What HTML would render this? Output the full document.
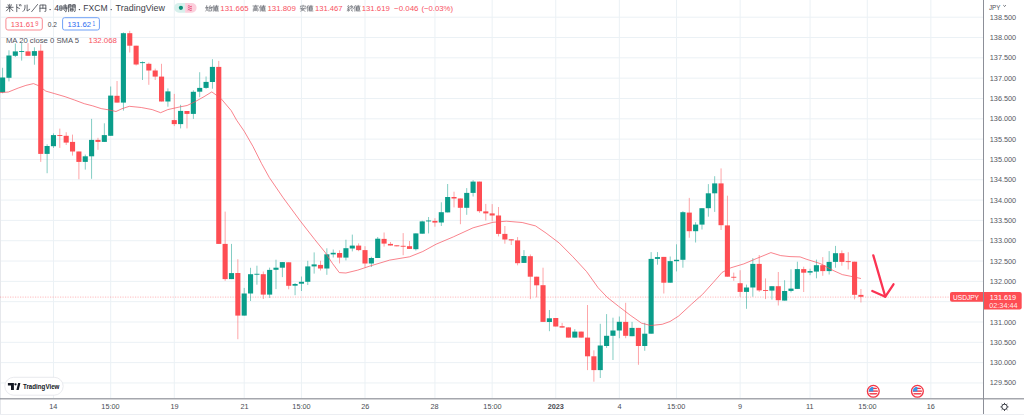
<!DOCTYPE html><html><head><meta charset="utf-8"><style>
html,body{margin:0;padding:0;background:#fff;width:1024px;height:415px;overflow:hidden}
svg{display:block}
text{font-family:"Liberation Sans",sans-serif}
</style></head><body>
<svg width="1024" height="415" viewBox="0 0 1024 415">
<rect x="0" y="0" width="1024" height="415" fill="#ffffff"/>
<g stroke="#ebf1f5" stroke-width="1"><line x1="53.46" y1="0" x2="53.46" y2="398" /><line x1="110.69" y1="0" x2="110.69" y2="398" /><line x1="174.27" y1="0" x2="174.27" y2="398" /><line x1="244.20" y1="0" x2="244.20" y2="398" /><line x1="301.43" y1="0" x2="301.43" y2="398" /><line x1="365.01" y1="0" x2="365.01" y2="398" /><line x1="434.94" y1="0" x2="434.94" y2="398" /><line x1="492.17" y1="0" x2="492.17" y2="398" /><line x1="555.75" y1="0" x2="555.75" y2="398" /><line x1="619.33" y1="0" x2="619.33" y2="398" /><line x1="676.55" y1="0" x2="676.55" y2="398" /><line x1="740.13" y1="0" x2="740.13" y2="398" /><line x1="810.07" y1="0" x2="810.07" y2="398" /><line x1="867.29" y1="0" x2="867.29" y2="398" /><line x1="930.87" y1="0" x2="930.87" y2="398" /><line x1="0" y1="17.20" x2="983" y2="17.20" /><line x1="0" y1="37.52" x2="983" y2="37.52" /><line x1="0" y1="57.84" x2="983" y2="57.84" /><line x1="0" y1="78.16" x2="983" y2="78.16" /><line x1="0" y1="98.48" x2="983" y2="98.48" /><line x1="0" y1="118.80" x2="983" y2="118.80" /><line x1="0" y1="139.12" x2="983" y2="139.12" /><line x1="0" y1="159.44" x2="983" y2="159.44" /><line x1="0" y1="179.76" x2="983" y2="179.76" /><line x1="0" y1="200.08" x2="983" y2="200.08" /><line x1="0" y1="220.40" x2="983" y2="220.40" /><line x1="0" y1="240.72" x2="983" y2="240.72" /><line x1="0" y1="261.04" x2="983" y2="261.04" /><line x1="0" y1="281.36" x2="983" y2="281.36" /><line x1="0" y1="301.68" x2="983" y2="301.68" /><line x1="0" y1="322.00" x2="983" y2="322.00" /><line x1="0" y1="342.32" x2="983" y2="342.32" /><line x1="0" y1="362.64" x2="983" y2="362.64" /><line x1="0" y1="382.96" x2="983" y2="382.96" /></g>
<rect x="0" y="0" width="1" height="415" fill="#e6e8ec"/>
<line x1="0" y1="297.1" x2="950" y2="297.1" stroke="#fe4d53" stroke-width="1" stroke-dasharray="1.2 1.3" opacity="0.38"/>
<g fill="#0a9d8a" opacity="0.55"><rect x="2.15" y="67.80" width="0.9" height="25.50"/><rect x="8.51" y="50.30" width="0.9" height="31.10"/><rect x="14.87" y="43.50" width="0.9" height="13.50"/><rect x="21.22" y="42.80" width="0.9" height="17.80"/><rect x="33.94" y="47.30" width="0.9" height="17.40"/><rect x="46.66" y="144.30" width="0.9" height="28.90"/><rect x="53.01" y="133.40" width="0.9" height="14.50"/><rect x="84.80" y="154.60" width="0.9" height="15.00"/><rect x="91.16" y="118.90" width="0.9" height="59.90"/><rect x="103.88" y="123.30" width="0.9" height="18.60"/><rect x="110.24" y="86.50" width="0.9" height="49.30"/><rect x="122.95" y="32.40" width="0.9" height="78.20"/><rect x="142.03" y="61.40" width="0.9" height="18.60"/><rect x="167.46" y="88.40" width="0.9" height="18.30"/><rect x="180.17" y="104.80" width="0.9" height="23.60"/><rect x="192.89" y="90.30" width="0.9" height="28.60"/><rect x="199.25" y="72.20" width="0.9" height="25.00"/><rect x="205.61" y="76.50" width="0.9" height="12.30"/><rect x="211.96" y="59.20" width="0.9" height="29.50"/><rect x="231.04" y="243.90" width="0.9" height="35.20"/><rect x="243.75" y="287.90" width="0.9" height="27.70"/><rect x="250.11" y="267.80" width="0.9" height="33.20"/><rect x="256.47" y="265.70" width="0.9" height="19.00"/><rect x="269.19" y="267.60" width="0.9" height="30.40"/><rect x="275.54" y="259.70" width="0.9" height="29.40"/><rect x="281.90" y="262.10" width="0.9" height="15.00"/><rect x="294.62" y="283.00" width="0.9" height="12.20"/><rect x="300.98" y="276.50" width="0.9" height="14.50"/><rect x="307.33" y="260.80" width="0.9" height="24.20"/><rect x="313.69" y="252.40" width="0.9" height="21.20"/><rect x="326.41" y="248.30" width="0.9" height="26.50"/><rect x="332.77" y="249.50" width="0.9" height="8.00"/><rect x="345.48" y="239.70" width="0.9" height="20.70"/><rect x="351.84" y="234.60" width="0.9" height="16.80"/><rect x="370.91" y="256.80" width="0.9" height="10.20"/><rect x="377.27" y="237.00" width="0.9" height="21.00"/><rect x="415.42" y="233.40" width="0.9" height="17.10"/><rect x="421.78" y="220.70" width="0.9" height="13.00"/><rect x="428.14" y="217.00" width="0.9" height="16.40"/><rect x="440.85" y="202.30" width="0.9" height="23.70"/><rect x="447.21" y="184.00" width="0.9" height="28.40"/><rect x="466.28" y="188.10" width="0.9" height="26.70"/><rect x="472.64" y="180.10" width="0.9" height="16.40"/><rect x="523.51" y="250.10" width="0.9" height="12.80"/><rect x="548.94" y="310.00" width="0.9" height="21.20"/><rect x="574.37" y="329.10" width="0.9" height="8.50"/><rect x="599.80" y="323.80" width="0.9" height="54.20"/><rect x="606.16" y="314.10" width="0.9" height="33.80"/><rect x="612.52" y="317.70" width="0.9" height="42.30"/><rect x="618.88" y="316.50" width="0.9" height="21.70"/><rect x="631.59" y="321.90" width="0.9" height="14.30"/><rect x="644.31" y="322.80" width="0.9" height="28.00"/><rect x="650.67" y="252.10" width="0.9" height="81.60"/><rect x="657.02" y="252.10" width="0.9" height="12.60"/><rect x="669.74" y="256.50" width="0.9" height="26.20"/><rect x="676.10" y="244.30" width="0.9" height="27.10"/><rect x="682.46" y="211.10" width="0.9" height="56.60"/><rect x="695.17" y="222.20" width="0.9" height="20.30"/><rect x="701.53" y="208.20" width="0.9" height="21.30"/><rect x="707.89" y="184.10" width="0.9" height="32.60"/><rect x="714.25" y="176.20" width="0.9" height="35.70"/><rect x="746.04" y="284.60" width="0.9" height="24.20"/><rect x="752.39" y="258.10" width="0.9" height="38.60"/><rect x="771.47" y="286.20" width="0.9" height="13.40"/><rect x="784.18" y="280.20" width="0.9" height="20.40"/><rect x="790.54" y="269.30" width="0.9" height="23.10"/><rect x="796.90" y="261.70" width="0.9" height="27.20"/><rect x="809.62" y="268.70" width="0.9" height="6.50"/><rect x="815.97" y="259.60" width="0.9" height="18.70"/><rect x="828.69" y="251.10" width="0.9" height="23.40"/><rect x="835.05" y="245.90" width="0.9" height="21.80"/></g>
<g fill="#fe4d53" opacity="0.55"><rect x="27.58" y="43.10" width="0.9" height="12.70"/><rect x="40.30" y="44.20" width="0.9" height="117.70"/><rect x="59.37" y="128.60" width="0.9" height="19.30"/><rect x="65.73" y="132.20" width="0.9" height="12.80"/><rect x="72.09" y="134.60" width="0.9" height="21.00"/><rect x="78.45" y="151.50" width="0.9" height="27.70"/><rect x="97.52" y="137.80" width="0.9" height="12.00"/><rect x="116.59" y="81.00" width="0.9" height="21.60"/><rect x="129.31" y="30.80" width="0.9" height="21.70"/><rect x="135.67" y="45.70" width="0.9" height="19.80"/><rect x="148.38" y="62.60" width="0.9" height="22.20"/><rect x="154.74" y="68.60" width="0.9" height="11.40"/><rect x="161.10" y="63.80" width="0.9" height="37.70"/><rect x="173.82" y="93.90" width="0.9" height="32.20"/><rect x="186.53" y="111.00" width="0.9" height="17.40"/><rect x="218.32" y="60.90" width="0.9" height="183.00"/><rect x="224.68" y="211.60" width="0.9" height="69.20"/><rect x="237.40" y="259.20" width="0.9" height="80.00"/><rect x="262.83" y="271.50" width="0.9" height="27.50"/><rect x="288.26" y="262.30" width="0.9" height="27.00"/><rect x="320.05" y="260.80" width="0.9" height="9.70"/><rect x="339.12" y="250.30" width="0.9" height="13.10"/><rect x="358.20" y="243.40" width="0.9" height="7.80"/><rect x="364.56" y="246.20" width="0.9" height="21.30"/><rect x="383.63" y="232.50" width="0.9" height="14.10"/><rect x="389.99" y="242.00" width="0.9" height="3.50"/><rect x="396.35" y="245.30" width="0.9" height="1.00"/><rect x="402.70" y="233.10" width="0.9" height="22.10"/><rect x="409.06" y="241.00" width="0.9" height="7.90"/><rect x="434.49" y="218.20" width="0.9" height="8.50"/><rect x="453.57" y="191.70" width="0.9" height="15.70"/><rect x="459.93" y="198.50" width="0.9" height="25.70"/><rect x="479.00" y="181.60" width="0.9" height="31.20"/><rect x="485.36" y="203.90" width="0.9" height="16.60"/><rect x="491.72" y="204.10" width="0.9" height="17.10"/><rect x="498.07" y="207.00" width="0.9" height="29.40"/><rect x="504.43" y="226.00" width="0.9" height="17.70"/><rect x="510.79" y="239.30" width="0.9" height="5.70"/><rect x="517.15" y="237.10" width="0.9" height="28.20"/><rect x="529.86" y="254.50" width="0.9" height="44.60"/><rect x="536.22" y="276.70" width="0.9" height="20.70"/><rect x="542.58" y="267.70" width="0.9" height="54.20"/><rect x="555.30" y="318.00" width="0.9" height="8.50"/><rect x="561.65" y="322.90" width="0.9" height="4.70"/><rect x="568.01" y="327.40" width="0.9" height="10.20"/><rect x="580.73" y="331.60" width="0.9" height="6.00"/><rect x="587.09" y="305.00" width="0.9" height="65.10"/><rect x="593.44" y="350.30" width="0.9" height="31.40"/><rect x="625.23" y="302.80" width="0.9" height="35.40"/><rect x="637.95" y="327.90" width="0.9" height="36.90"/><rect x="663.38" y="256.90" width="0.9" height="36.60"/><rect x="688.81" y="197.90" width="0.9" height="39.80"/><rect x="720.60" y="168.40" width="0.9" height="61.60"/><rect x="726.96" y="195.70" width="0.9" height="81.00"/><rect x="733.32" y="272.60" width="0.9" height="8.20"/><rect x="739.68" y="270.20" width="0.9" height="26.50"/><rect x="758.75" y="255.00" width="0.9" height="36.90"/><rect x="765.11" y="278.40" width="0.9" height="20.70"/><rect x="777.83" y="272.00" width="0.9" height="33.50"/><rect x="803.26" y="266.70" width="0.9" height="25.30"/><rect x="822.33" y="257.10" width="0.9" height="18.70"/><rect x="841.41" y="250.40" width="0.9" height="15.30"/><rect x="847.76" y="252.20" width="0.9" height="17.30"/><rect x="854.12" y="261.70" width="0.9" height="37.70"/><rect x="860.48" y="289.00" width="0.9" height="13.50"/></g>
<g fill="#0a9d8a"><rect x="0.05" y="77.50" width="5.1" height="14.80"/><rect x="6.41" y="55.50" width="5.1" height="22.30"/><rect x="12.77" y="51.40" width="5.1" height="4.40"/><rect x="19.12" y="51.00" width="5.1" height="0.90"/><rect x="31.84" y="51.10" width="5.1" height="4.70"/><rect x="44.56" y="146.00" width="5.1" height="7.90"/><rect x="50.91" y="135.10" width="5.1" height="11.10"/><rect x="82.70" y="156.30" width="5.1" height="5.60"/><rect x="89.06" y="139.90" width="5.1" height="16.40"/><rect x="101.78" y="135.10" width="5.1" height="6.80"/><rect x="108.14" y="95.60" width="5.1" height="40.20"/><rect x="120.85" y="33.20" width="5.1" height="69.40"/><rect x="139.93" y="62.20" width="5.1" height="0.90"/><rect x="165.36" y="91.40" width="5.1" height="10.10"/><rect x="178.07" y="110.90" width="5.1" height="13.20"/><rect x="190.79" y="91.80" width="5.1" height="22.10"/><rect x="197.15" y="87.90" width="5.1" height="3.80"/><rect x="203.51" y="81.90" width="5.1" height="6.00"/><rect x="209.86" y="66.90" width="5.1" height="15.10"/><rect x="228.94" y="273.10" width="5.1" height="6.00"/><rect x="241.65" y="293.50" width="5.1" height="22.10"/><rect x="248.01" y="274.20" width="5.1" height="19.30"/><rect x="254.37" y="273.80" width="5.1" height="0.90"/><rect x="267.09" y="269.90" width="5.1" height="24.70"/><rect x="273.44" y="267.70" width="5.1" height="2.10"/><rect x="279.80" y="262.10" width="5.1" height="5.60"/><rect x="292.52" y="284.00" width="5.1" height="1.70"/><rect x="298.88" y="281.80" width="5.1" height="1.90"/><rect x="305.23" y="266.40" width="5.1" height="15.40"/><rect x="311.59" y="264.40" width="5.1" height="2.00"/><rect x="324.31" y="254.30" width="5.1" height="14.20"/><rect x="330.67" y="252.80" width="5.1" height="1.60"/><rect x="343.38" y="248.20" width="5.1" height="9.40"/><rect x="349.74" y="245.60" width="5.1" height="2.90"/><rect x="368.81" y="258.00" width="5.1" height="5.50"/><rect x="375.17" y="238.70" width="5.1" height="19.30"/><rect x="413.32" y="233.40" width="5.1" height="15.80"/><rect x="419.68" y="221.40" width="5.1" height="12.30"/><rect x="426.04" y="220.50" width="5.1" height="0.90"/><rect x="438.75" y="212.20" width="5.1" height="10.30"/><rect x="445.11" y="197.00" width="5.1" height="15.40"/><rect x="464.18" y="192.90" width="5.1" height="14.90"/><rect x="470.54" y="181.60" width="5.1" height="11.30"/><rect x="521.41" y="256.00" width="5.1" height="6.90"/><rect x="546.84" y="318.30" width="5.1" height="3.70"/><rect x="572.27" y="331.60" width="5.1" height="6.00"/><rect x="597.70" y="345.50" width="5.1" height="24.60"/><rect x="604.06" y="335.80" width="5.1" height="10.20"/><rect x="610.42" y="330.50" width="5.1" height="5.30"/><rect x="616.78" y="321.80" width="5.1" height="8.70"/><rect x="629.49" y="327.90" width="5.1" height="8.30"/><rect x="642.21" y="333.70" width="5.1" height="12.30"/><rect x="648.57" y="258.90" width="5.1" height="74.80"/><rect x="654.92" y="257.10" width="5.1" height="1.80"/><rect x="667.64" y="261.10" width="5.1" height="21.60"/><rect x="674.00" y="259.80" width="5.1" height="1.40"/><rect x="680.36" y="212.20" width="5.1" height="47.60"/><rect x="693.07" y="224.60" width="5.1" height="6.60"/><rect x="699.43" y="208.20" width="5.1" height="16.40"/><rect x="705.79" y="193.30" width="5.1" height="14.90"/><rect x="712.15" y="183.40" width="5.1" height="9.90"/><rect x="743.94" y="287.50" width="5.1" height="4.40"/><rect x="750.29" y="263.90" width="5.1" height="23.60"/><rect x="769.37" y="286.20" width="5.1" height="4.40"/><rect x="782.08" y="291.00" width="5.1" height="9.60"/><rect x="788.44" y="288.60" width="5.1" height="2.30"/><rect x="794.80" y="269.10" width="5.1" height="19.80"/><rect x="807.52" y="271.10" width="5.1" height="1.50"/><rect x="813.87" y="265.20" width="5.1" height="6.40"/><rect x="826.59" y="261.90" width="5.1" height="9.20"/><rect x="832.95" y="253.20" width="5.1" height="8.70"/></g>
<g fill="#fe4d53"><rect x="25.48" y="51.40" width="5.1" height="4.40"/><rect x="38.20" y="50.70" width="5.1" height="103.20"/><rect x="57.27" y="135.10" width="5.1" height="0.90"/><rect x="63.63" y="135.80" width="5.1" height="6.80"/><rect x="69.99" y="141.90" width="5.1" height="9.60"/><rect x="76.35" y="151.50" width="5.1" height="10.40"/><rect x="95.42" y="139.90" width="5.1" height="2.00"/><rect x="114.49" y="95.80" width="5.1" height="6.80"/><rect x="127.21" y="33.20" width="5.1" height="12.50"/><rect x="133.57" y="45.70" width="5.1" height="18.80"/><rect x="146.28" y="63.80" width="5.1" height="6.70"/><rect x="152.64" y="70.50" width="5.1" height="6.10"/><rect x="159.00" y="76.60" width="5.1" height="24.90"/><rect x="171.72" y="120.10" width="5.1" height="4.00"/><rect x="184.43" y="111.00" width="5.1" height="2.90"/><rect x="216.22" y="66.90" width="5.1" height="177.00"/><rect x="222.58" y="243.90" width="5.1" height="35.20"/><rect x="235.30" y="273.00" width="5.1" height="42.60"/><rect x="260.73" y="274.20" width="5.1" height="20.40"/><rect x="286.16" y="262.30" width="5.1" height="23.50"/><rect x="317.95" y="264.90" width="5.1" height="3.60"/><rect x="337.02" y="253.00" width="5.1" height="4.60"/><rect x="356.10" y="245.60" width="5.1" height="4.50"/><rect x="362.46" y="250.10" width="5.1" height="13.40"/><rect x="381.53" y="238.90" width="5.1" height="4.70"/><rect x="387.89" y="243.90" width="5.1" height="1.60"/><rect x="394.25" y="245.30" width="5.1" height="1.00"/><rect x="400.60" y="245.80" width="5.1" height="0.90"/><rect x="406.96" y="246.20" width="5.1" height="2.70"/><rect x="432.39" y="220.90" width="5.1" height="1.70"/><rect x="451.47" y="197.00" width="5.1" height="1.50"/><rect x="457.83" y="198.50" width="5.1" height="9.30"/><rect x="476.90" y="181.60" width="5.1" height="29.60"/><rect x="483.26" y="211.40" width="5.1" height="2.00"/><rect x="489.62" y="213.40" width="5.1" height="2.10"/><rect x="495.97" y="215.50" width="5.1" height="18.40"/><rect x="502.33" y="233.90" width="5.1" height="5.60"/><rect x="508.69" y="239.30" width="5.1" height="1.10"/><rect x="515.05" y="240.40" width="5.1" height="22.80"/><rect x="527.76" y="256.20" width="5.1" height="20.50"/><rect x="534.12" y="276.70" width="5.1" height="8.60"/><rect x="540.48" y="285.20" width="5.1" height="36.70"/><rect x="553.20" y="318.00" width="5.1" height="8.50"/><rect x="559.55" y="326.20" width="5.1" height="1.40"/><rect x="565.91" y="327.40" width="5.1" height="10.20"/><rect x="578.63" y="331.60" width="5.1" height="6.00"/><rect x="584.99" y="337.60" width="5.1" height="18.70"/><rect x="591.34" y="356.30" width="5.1" height="13.80"/><rect x="623.13" y="321.90" width="5.1" height="13.90"/><rect x="635.85" y="327.90" width="5.1" height="18.10"/><rect x="661.28" y="256.90" width="5.1" height="25.80"/><rect x="686.71" y="212.60" width="5.1" height="18.60"/><rect x="718.50" y="183.40" width="5.1" height="41.80"/><rect x="724.86" y="225.40" width="5.1" height="51.30"/><rect x="731.22" y="276.80" width="5.1" height="0.90"/><rect x="737.58" y="283.20" width="5.1" height="8.70"/><rect x="756.65" y="263.90" width="5.1" height="26.50"/><rect x="763.01" y="290.00" width="5.1" height="0.90"/><rect x="775.73" y="286.20" width="5.1" height="14.00"/><rect x="801.16" y="269.10" width="5.1" height="3.60"/><rect x="820.23" y="265.20" width="5.1" height="5.90"/><rect x="839.31" y="253.20" width="5.1" height="8.70"/><rect x="845.66" y="261.20" width="5.1" height="0.90"/><rect x="852.02" y="261.70" width="5.1" height="33.10"/><rect x="858.38" y="294.90" width="5.1" height="1.90"/></g>
<polyline points="0.0,92.6 4.8,92.3 8.4,92.0 18.1,88.1 25.9,85.4 33.5,83.6 38.6,85.7 45.8,91.1 54.2,93.5 65.1,96.7 74.7,100.1 84.3,103.7 92.8,105.9 101.2,108.6 108.4,109.8 116.0,111.5 122.0,108.7 129.3,106.3 141.3,107.5 152.2,109.6 160.6,112.7 167.8,109.6 179.9,106.9 187.1,105.5 194.3,102.1 204.0,96.7 211.8,91.9 216.0,94.9 221.1,98.7 231.2,110.6 236.7,120.3 244.2,131.2 252.9,146.3 261.6,163.6 269.3,177.5 283.2,197.8 300.9,221.8 314.8,239.6 325.0,252.2 332.6,263.6 339.3,272.6 345.9,273.0 357.8,270.1 369.8,266.1 389.7,260.1 409.6,256.8 422.8,251.5 436.1,244.2 453.3,236.9 473.1,227.8 493.0,222.3 506.3,221.2 522.2,222.5 535.5,225.9 546.1,233.1 559.2,243.0 572.9,256.8 586.6,271.6 598.1,287.7 607.2,297.3 618.7,306.4 630.1,315.1 641.6,323.2 650.8,325.5 662.2,324.3 670.0,321.5 678.7,316.0 691.7,304.0 702.6,294.3 713.4,282.3 722.1,272.4 730.8,267.8 743.8,263.9 756.8,258.4 770.9,252.6 780.7,255.6 790.0,256.6 800.1,256.9 806.9,259.4 820.4,263.6 833.0,270.4 842.3,274.6 850.8,276.3 860.9,278.5" fill="none" stroke="#f7525f" stroke-width="0.95" opacity="0.75" stroke-linejoin="round"/>
<g stroke="#fb3352" stroke-width="2.3" fill="none" stroke-linecap="round" stroke-linejoin="round"><path d="M873.3,255.4 L885.3,296.7"/><path d="M872.3,291 L885.3,296.7 L893.5,284.3"/></g>
<rect x="983" y="0" width="1" height="415" fill="#8c8f98"/>
<rect x="0" y="398.2" width="1024" height="1.2" fill="#8f929a"/>
<rect x="0" y="414" width="1024" height="1" fill="#eceef2"/>
<g font-size="7.5" fill="#55585f"><text x="989.8" y="19.70" textLength="26.4" lengthAdjust="spacingAndGlyphs">138.500</text><text x="989.8" y="40.02" textLength="26.4" lengthAdjust="spacingAndGlyphs">138.000</text><text x="989.8" y="60.34" textLength="26.4" lengthAdjust="spacingAndGlyphs">137.500</text><text x="989.8" y="80.66" textLength="26.4" lengthAdjust="spacingAndGlyphs">137.000</text><text x="989.8" y="100.98" textLength="26.4" lengthAdjust="spacingAndGlyphs">136.500</text><text x="989.8" y="121.30" textLength="26.4" lengthAdjust="spacingAndGlyphs">136.000</text><text x="989.8" y="141.62" textLength="26.4" lengthAdjust="spacingAndGlyphs">135.500</text><text x="989.8" y="161.94" textLength="26.4" lengthAdjust="spacingAndGlyphs">135.000</text><text x="989.8" y="182.26" textLength="26.4" lengthAdjust="spacingAndGlyphs">134.500</text><text x="989.8" y="202.58" textLength="26.4" lengthAdjust="spacingAndGlyphs">134.000</text><text x="989.8" y="222.90" textLength="26.4" lengthAdjust="spacingAndGlyphs">133.500</text><text x="989.8" y="243.22" textLength="26.4" lengthAdjust="spacingAndGlyphs">133.000</text><text x="989.8" y="263.54" textLength="26.4" lengthAdjust="spacingAndGlyphs">132.500</text><text x="989.8" y="283.86" textLength="26.4" lengthAdjust="spacingAndGlyphs">132.000</text><text x="989.8" y="324.50" textLength="26.4" lengthAdjust="spacingAndGlyphs">131.000</text><text x="989.8" y="344.82" textLength="26.4" lengthAdjust="spacingAndGlyphs">130.500</text><text x="989.8" y="365.14" textLength="26.4" lengthAdjust="spacingAndGlyphs">130.000</text><text x="989.8" y="385.46" textLength="26.4" lengthAdjust="spacingAndGlyphs">129.500</text></g>
<text x="989" y="9.5" font-size="7.3" fill="#4a4d55" textLength="11.4" lengthAdjust="spacingAndGlyphs">JPY</text>
<path d="M1003.4,5.3 L1004.6,6.4 L1005.8,5.3" stroke="#4a4d55" stroke-width="0.9" fill="none"/>
<g font-size="7.3" fill="#4a4d55"><text x="53.30" y="409.4" text-anchor="middle">14</text><text x="110.50" y="409.4" text-anchor="middle">15:00</text><text x="174.50" y="409.4" text-anchor="middle">19</text><text x="244.50" y="409.4" text-anchor="middle">21</text><text x="301.50" y="409.4" text-anchor="middle">15:00</text><text x="365.25" y="409.4" text-anchor="middle">26</text><text x="434.50" y="409.4" text-anchor="middle">28</text><text x="492.50" y="409.4" text-anchor="middle">15:00</text><text x="555.75" y="409.4" text-anchor="middle" font-weight="bold">2023</text><text x="619.50" y="409.4" text-anchor="middle">4</text><text x="676.25" y="409.4" text-anchor="middle">15:00</text><text x="740.00" y="409.4" text-anchor="middle">9</text><text x="809.75" y="409.4" text-anchor="middle">11</text><text x="867.50" y="409.4" text-anchor="middle">15:00</text><text x="930.75" y="409.4" text-anchor="middle">16</text></g>
<g stroke="#3a3d45" stroke-width="1" fill="none"><circle cx="1004.5" cy="406.9" r="2.7"/><line x1="1007.10" y1="406.90" x2="1008.50" y2="406.90"/><line x1="1006.34" y1="408.74" x2="1007.33" y2="409.73"/><line x1="1004.50" y1="409.50" x2="1004.50" y2="410.90"/><line x1="1002.66" y1="408.74" x2="1001.67" y2="409.73"/><line x1="1001.90" y1="406.90" x2="1000.50" y2="406.90"/><line x1="1002.66" y1="405.06" x2="1001.67" y2="404.07"/><line x1="1004.50" y1="404.30" x2="1004.50" y2="402.90"/><line x1="1006.34" y1="405.06" x2="1007.33" y2="404.07"/></g>
<path d="M950,294 a2,2 0 0 1 2,-2 H983 V301.7 H952 a2,2 0 0 1 -2,-2 Z" fill="#fe4d53"/>
<text x="953" y="299.8" font-size="7.3" fill="#fff" textLength="26" lengthAdjust="spacingAndGlyphs">USDJPY</text>
<path d="M984,292 H1019.7 a2,2 0 0 1 2,2 V307.5 a2,2 0 0 1 -2,2 H984 Z" fill="#fe4d53"/>
<text x="1003" y="299.6" font-size="7.3" fill="#fff" text-anchor="middle">131.619</text>
<text x="1003.4" y="307.8" font-size="7.3" fill="#fff" fill-opacity="0.9" text-anchor="middle">02:34:44</text>
<rect x="4.8" y="377.3" width="58.4" height="17.9" rx="8.95" fill="#fff" stroke="#e3e5ea" stroke-width="0.8"/>
<path d="M7.9,383.1 H13.9 V390 H11 V385.6 H7.9 Z" fill="#131722"/>
<circle cx="15.5" cy="384.3" r="1.15" fill="#131722"/>
<path d="M16.4,390 L18.1,383.1 H20.4 L18.7,390 Z" fill="#131722"/>
<text x="23" y="389" font-size="7.6" font-weight="bold" fill="#131722" textLength="36.4" lengthAdjust="spacingAndGlyphs">TradingView</text>
<g><circle cx="873.3" cy="391.3" r="5.9" fill="#fff" stroke="#f23645" stroke-width="1.3"/><clipPath id="fc873"><circle cx="873.3" cy="391.3" r="4.6"/></clipPath><g clip-path="url(#fc873)"><rect x="868.3" y="386.3" width="10" height="10" fill="#fff"/><rect x="868.3" y="387.7" width="10" height="1.4" fill="#f23645"/><rect x="868.3" y="390.40000000000003" width="10" height="1.4" fill="#f23645"/><rect x="868.3" y="393.1" width="10" height="1.4" fill="#f23645"/><rect x="868.3" y="386.3" width="5" height="5.2" fill="#3a95e6"/></g></g>
<g><circle cx="917.4" cy="391.3" r="5.9" fill="#fff" stroke="#f23645" stroke-width="1.3"/><clipPath id="fc917"><circle cx="917.4" cy="391.3" r="4.6"/></clipPath><g clip-path="url(#fc917)"><rect x="912.4" y="386.3" width="10" height="10" fill="#fff"/><rect x="912.4" y="387.7" width="10" height="1.4" fill="#f23645"/><rect x="912.4" y="390.40000000000003" width="10" height="1.4" fill="#f23645"/><rect x="912.4" y="393.1" width="10" height="1.4" fill="#f23645"/><rect x="912.4" y="386.3" width="5" height="5.2" fill="#3a95e6"/></g></g>
<path d="M3,1.2 L3.8,3.2 M7,1.2 L6.2,3.2 M0.8,4.3 H9.2 M5,0.6 V9.6 M4.6,4.8 L1,8.6 M5.4,4.8 L9,8.6" transform="translate(5.60,3.80) scale(0.8200)" fill="none" stroke="#3d4049" stroke-width="0.95" stroke-linecap="round" stroke-linejoin="round"/><path d="M3.5,0.8 V9.6 M3.5,4 L6.8,5.8 M6.6,1 L7.2,2.6 M8.2,0.8 L8.8,2.4" transform="translate(13.90,3.80) scale(0.8200)" fill="none" stroke="#3d4049" stroke-width="0.95" stroke-linecap="round" stroke-linejoin="round"/><path d="M3.4,1.8 V5 Q3.2,8 1,9.4 M6,1.4 V8.8 L9.2,6.6" transform="translate(22.20,3.80) scale(0.8200)" fill="none" stroke="#3d4049" stroke-width="0.95" stroke-linecap="round" stroke-linejoin="round"/><path d="M8.6,0.8 L1.4,9.6" transform="translate(30.50,3.80) scale(0.8200)" fill="none" stroke="#3d4049" stroke-width="0.95" stroke-linecap="round" stroke-linejoin="round"/><path d="M1.4,9.6 V1.5 H8.6 V8.8 Q8.6,9.6 7.4,9.4 M5,1.5 V5.4 M1.4,5.4 H8.6" transform="translate(38.80,3.80) scale(0.8200)" fill="none" stroke="#3d4049" stroke-width="0.95" stroke-linecap="round" stroke-linejoin="round"/>
<circle cx="50.1" cy="9.6" r="0.7" fill="#3d4049"/>
<text x="54.3" y="10.9" font-size="8.4" fill="#3d4049" textLength="4.8" lengthAdjust="spacingAndGlyphs">4</text>
<path d="M0.8,2.6 H3 V7.8 H0.8 Z M0.8,5.2 H3 M4.6,2.6 H9.2 M6.9,0.8 V4.2 M4.2,4.2 H9.6 M4.2,6 H9.6 M8.2,4.6 V9.4 Q8.2,9.8 7.2,9.6 M5.4,7 L6.2,8.2" transform="translate(59.50,3.80) scale(0.8200)" fill="none" stroke="#3d4049" stroke-width="0.95" stroke-linecap="round" stroke-linejoin="round"/><path d="M1,9.6 V1 H4 V4 H1 M1,2.5 H4 M6,4 V1 H9 V8.8 Q9,9.6 8,9.4 M6,2.5 H9 M6,4 H9 M3.6,5.4 H6.4 V8.8 H3.6 Z M3.6,7.1 H6.4" transform="translate(67.80,3.80) scale(0.8200)" fill="none" stroke="#3d4049" stroke-width="0.95" stroke-linecap="round" stroke-linejoin="round"/>
<circle cx="79.4" cy="9.6" r="0.7" fill="#3d4049"/>
<text x="83.3" y="10.9" font-size="8.4" fill="#3d4049" textLength="24.2" lengthAdjust="spacingAndGlyphs">FXCM</text>
<circle cx="111.2" cy="9.6" r="0.7" fill="#3d4049"/>
<text x="115.6" y="10.9" font-size="8.4" fill="#3d4049" textLength="49.3" lengthAdjust="spacingAndGlyphs">TradingView</text>
<path d="M179,2.9 H185.1 V12.7 H179 a4.9,4.9 0 0 1 0,-9.8 Z" fill="#d7f0ec"/>
<path d="M185.1,2.9 H191.7 a4.9,4.9 0 0 1 0,9.8 H185.1 Z" fill="#fccfdc"/>
<circle cx="180.9" cy="7.8" r="2.1" fill="#0b8f78"/>
<path d="M187.8,6.2 q1,-1 2,0 t2,0 M187.8,8.1 q1,-1 2,0 t2,0 M187.8,10 q1,-1 2,0 t2,0" stroke="#e0386a" stroke-width="0.85" fill="none"/>
<path d="M2,1 L1,5 Q2.5,7 4.2,9.4 M3.6,3.2 Q3,7 0.6,9.4 M0.4,4.2 H4.4 M7.4,0.8 L5.6,4 H9.4 M8.6,2.6 L9.6,4.4 M6,5.6 H9.2 V9.2 H6 Z" transform="translate(205.40,4.90) scale(0.6600)" fill="none" stroke="#63666e" stroke-width="1.0" stroke-linecap="round" stroke-linejoin="round"/><path d="M2.6,0.8 L0.6,4.4 M1.8,3 V9.6 M4,2 H9.6 M6.8,0.6 V3.4 M5,3.4 H8.6 V8 H5 Z M5,4.9 H8.6 M5,6.4 H8.6 M4,3.4 V9.2 H9.8" transform="translate(212.10,4.90) scale(0.6600)" fill="none" stroke="#63666e" stroke-width="1.0" stroke-linecap="round" stroke-linejoin="round"/>
<text x="220.3" y="11.2" font-size="8.0" fill="#f7525f" textLength="28.3" lengthAdjust="spacingAndGlyphs">131.665</text>
<path d="M5,0.4 V1.6 M0.8,1.6 H9.2 M3,2.8 H7 V4.6 H3 Z M1.4,9.6 V5.8 H8.6 V8.8 Q8.6,9.6 7.6,9.4 M3.6,7 H6.4 V8.6 H3.6 Z" transform="translate(252.40,4.90) scale(0.6600)" fill="none" stroke="#63666e" stroke-width="1.0" stroke-linecap="round" stroke-linejoin="round"/><path d="M2.6,0.8 L0.6,4.4 M1.8,3 V9.6 M4,2 H9.6 M6.8,0.6 V3.4 M5,3.4 H8.6 V8 H5 Z M5,4.9 H8.6 M5,6.4 H8.6 M4,3.4 V9.2 H9.8" transform="translate(259.10,4.90) scale(0.6600)" fill="none" stroke="#63666e" stroke-width="1.0" stroke-linecap="round" stroke-linejoin="round"/>
<text x="267.4" y="11.2" font-size="8.0" fill="#f7525f" textLength="28.5" lengthAdjust="spacingAndGlyphs">131.809</text>
<path d="M5,0.4 V1.6 M1,3.4 V1.8 H9 V3.4 M4,3.4 L2.4,6.6 Q5,7.6 8,9.6 M6.8,4.6 Q6,8.2 1.4,9.6 M0.6,5.8 H9.4" transform="translate(299.80,4.90) scale(0.6600)" fill="none" stroke="#63666e" stroke-width="1.0" stroke-linecap="round" stroke-linejoin="round"/><path d="M2.6,0.8 L0.6,4.4 M1.8,3 V9.6 M4,2 H9.6 M6.8,0.6 V3.4 M5,3.4 H8.6 V8 H5 Z M5,4.9 H8.6 M5,6.4 H8.6 M4,3.4 V9.2 H9.8" transform="translate(306.50,4.90) scale(0.6600)" fill="none" stroke="#63666e" stroke-width="1.0" stroke-linecap="round" stroke-linejoin="round"/>
<text x="314.9" y="11.2" font-size="8.0" fill="#f7525f" textLength="27.7" lengthAdjust="spacingAndGlyphs">131.467</text>
<path d="M2.2,0.8 L1,3.2 L3.2,4.2 M3.4,2.6 L0.8,6.4 H3.8 M2.2,6.4 V9.6 M1,7.6 L0.4,9 M3.2,7.6 L3.8,8.8 M6.6,0.8 L5,3.4 M6.2,2.2 H9 Q8,4.6 5,6 M6.8,3.4 Q8,5 9.8,5.6 M7,6.6 L8,7.2 M6.6,8.4 L8.4,9.4" transform="translate(347.00,4.90) scale(0.6600)" fill="none" stroke="#63666e" stroke-width="1.0" stroke-linecap="round" stroke-linejoin="round"/><path d="M2.6,0.8 L0.6,4.4 M1.8,3 V9.6 M4,2 H9.6 M6.8,0.6 V3.4 M5,3.4 H8.6 V8 H5 Z M5,4.9 H8.6 M5,6.4 H8.6 M4,3.4 V9.2 H9.8" transform="translate(353.70,4.90) scale(0.6600)" fill="none" stroke="#63666e" stroke-width="1.0" stroke-linecap="round" stroke-linejoin="round"/>
<text x="361.7" y="11.2" font-size="8.0" fill="#f7525f" textLength="28.1" lengthAdjust="spacingAndGlyphs">131.619</text>
<text x="394.1" y="11.1" font-size="7.8" fill="#f7525f" textLength="24.4" lengthAdjust="spacingAndGlyphs">−0.046</text>
<text x="421.4" y="11.1" font-size="7.8" fill="#f7525f" textLength="31.7" lengthAdjust="spacingAndGlyphs">(−0.03%)</text>
<rect x="5.9" y="17.7" width="36.4" height="12.3" rx="2" fill="#fff" stroke="#f98a92" stroke-width="1"/>
<text x="10.7" y="26.6" font-size="7.8" fill="#f7525f" textLength="23.6" lengthAdjust="spacingAndGlyphs">131.61</text>
<text x="35.2" y="25.9" font-size="6.3" fill="#f7525f" textLength="3.2" lengthAdjust="spacingAndGlyphs">9</text>
<text x="47.8" y="26.6" font-size="7.8" fill="#43464e" textLength="9.1" lengthAdjust="spacingAndGlyphs">0.2</text>
<rect x="62.6" y="17.7" width="36.8" height="12.3" rx="2" fill="#fff" stroke="#6fa0f7" stroke-width="1"/>
<text x="67.4" y="26.6" font-size="7.8" fill="#2d6bf0" textLength="23.6" lengthAdjust="spacingAndGlyphs">131.62</text>
<text x="92.4" y="25.9" font-size="6.3" fill="#2d6bf0" textLength="2.6" lengthAdjust="spacingAndGlyphs">1</text>
<text x="5.9" y="42.6" font-size="7.8" fill="#50535c" textLength="73.2" lengthAdjust="spacingAndGlyphs">MA 20 close 0 SMA 5</text>
<text x="88.5" y="42.6" font-size="7.9" fill="#f7525f" textLength="28.5" lengthAdjust="spacingAndGlyphs">132.068</text>
</svg></body></html>
